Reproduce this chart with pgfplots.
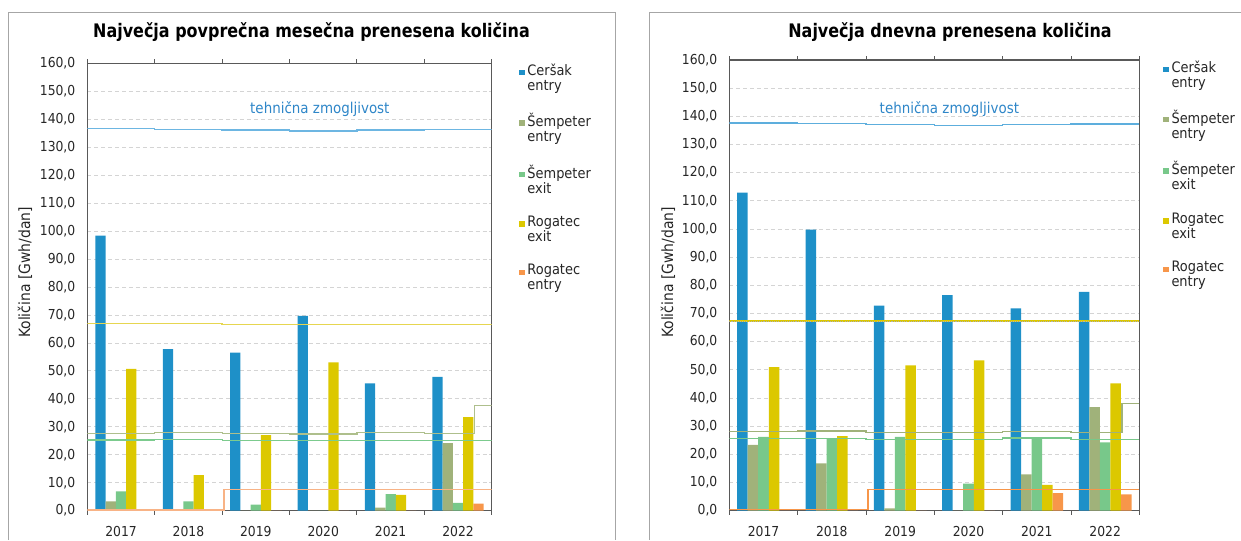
\documentclass[border=0pt]{standalone}
\usepackage{fontspec}
\setmainfont{DejaVu Sans}[FakeStretch=0.9]
\newfontfamily\titlefont{DejaVu Sans}[FakeStretch=0.855]
\usepackage{pgfplots}
\usepackage{pgfplotstable}
\pgfplotsset{compat=1.18}

\definecolor{cer}{HTML}{1E90C8}
\definecolor{semen}{HTML}{A0B27A}
\definecolor{semex}{HTML}{78C88A}
\definecolor{rogex}{HTML}{DCC800}
\definecolor{rogen}{HTML}{F7964A}
\definecolor{axgray}{HTML}{595959}
\definecolor{txt}{HTML}{262626}
\definecolor{capblue}{HTML}{6DB6E2}
\definecolor{capyel}{HTML}{E6D650}
\definecolor{capol}{HTML}{AEBF8C}
\definecolor{capgr}{HTML}{7CCB8E}
\definecolor{capor}{HTML}{F8B386}
\definecolor{labblue}{HTML}{2E86C8}

\pgfplotstableread{
x cer semen semex rogex rogen
0 98.4 3.3 6.9 50.7 0
1 57.8 0.6 3.3 12.7 0
2 56.5 0 2.2 27.0 0
3 69.7 0 0 53.0 0
4 45.5 1.1 5.9 5.7 0
5 47.9 24.2 2.8 33.5 2.5
}\monthly

\pgfplotstableread{
x cer semen semex rogex rogen
0 112.9 23.4 26.2 51.0 0
1 99.8 16.8 25.8 26.5 0
2 72.8 0.85 26.2 51.6 0
3 76.5 0 9.6 53.4 0
4 71.8 12.9 25.6 9.2 6.2
5 77.7 36.8 24.3 45.2 5.8
}\daily

\pgfplotsset{
  sq/.style={legend image code/.code={\fill[##1] (0pt,2.2pt) rectangle (4.1pt,6.3pt);}},
  base/.style={
    scale only axis,
    ymin=0, ymax=160,
    xmin=-0.5, xmax=5.5,
    ytick={0,10,...,160},
    xtick={0,...,5},
    xticklabels={2017,2018,2019,2020,2021,2022},
    minor xtick={-0.5,0.5,...,5.5},
    tick align=outside,
    major tick length=0pt,
    minor tick length=3pt,
    minor tick style={color=axgray, line width=0.75pt},
    axis line style={draw=axgray, line width=0.8pt},
    ymajorgrids,
    major grid style={color=black!17, dash pattern=on 3pt off 2.2pt, line width=0.6pt},
    /pgf/number format/assume math mode=true,
    yticklabel={\pgfmathprintnumber[fixed,fixed zerofill,precision=1,use comma]{\tick}},
    tick label style={font=\fontsize{10.3}{12}\selectfont, text=txt},
    yticklabel style={xshift=-5.5pt},
    xticklabel style={yshift=-8.5pt},
    legend cell align=left,
    legend style={draw=none, fill=none, inner sep=0pt, row sep=11.7pt,
      font=\fontsize{10.8}{11.25}\selectfont, text=txt,
      cells={align=left}, anchor=north west},
  },
}

\begin{document}
\begin{tikzpicture}
\path[use as bounding box] (0,0) rectangle (930.75pt,405pt);
\draw[color=black!35, line width=0.75pt] (6pt,0) -- (6pt,395.25pt) -- (461.25pt,395.25pt) -- (461.25pt,0);
\draw[color=black!35, line width=0.75pt] (486.75pt,0) -- (486.75pt,395.25pt) -- (930.75pt,395.25pt);

\node[font=\fontsize{14}{16}\selectfont\titlefont\bfseries, text=black] at (233.6pt,381pt) {Največja povprečna mesečna prenesena količina};
\node[font=\fontsize{14}{16}\selectfont\titlefont\bfseries, text=black] at (712.5pt,381pt) {Največja dnevna prenesena količina};
\node[rotate=90, font=\fontsize{11.6}{13}\selectfont, text=txt] at (18.75pt,200.6pt) {Količina [Gwh/dan]};
\node[rotate=90, font=\fontsize{11.6}{13}\selectfont, text=txt] at (501pt,200.6pt) {Količina [Gwh/dan]};

% ---------- left chart ----------
\begin{axis}[base,
  at={(65.5pt,21.98pt)}, anchor=south west,
  width=303.3pt, height=335.55pt,
  bar width=7.7pt,
  legend style={at={(1.0675,1.005)}},
]
\addplot[ybar, bar shift=-15.4pt, fill=cer, draw=none, sq] table[x=x,y=cer]{\monthly};
\addlegendentry{Ceršak\\entry}
\addplot[ybar, bar shift=-7.7pt, fill=semen, draw=none, sq] table[x=x,y=semen]{\monthly};
\addlegendentry{Šempeter\\entry}
\addplot[ybar, bar shift=0pt, fill=semex, draw=none, sq] table[x=x,y=semex]{\monthly};
\addlegendentry{Šempeter\\exit}
\addplot[ybar, bar shift=7.7pt, fill=rogex, draw=none, sq] table[x=x,y=rogex]{\monthly};
\addlegendentry{Rogatec\\exit}
\addplot[ybar, bar shift=15.4pt, fill=rogen, draw=none, sq] table[x=x,y=rogen]{\monthly};
\addlegendentry{Rogatec\\entry}
% capacity lines
\addplot[const plot, forget plot, color=capblue, line width=1pt] coordinates
 {(-0.5,136.6) (0.5,136.3) (1.5,136.1) (2.5,135.8) (3.5,136.1) (4.5,136.3) (5.5,136.3)};
\addplot[const plot, forget plot, color=capyel, line width=1pt] coordinates
 {(-0.5,67.0) (0.5,66.9) (1.5,66.6) (2.5,66.6) (3.5,66.6) (4.5,66.6) (5.5,66.6)};
\addplot[const plot, forget plot, color=capol, line width=0.9pt] coordinates
 {(-0.5,27.7) (0.5,28.0) (1.5,27.7) (2.5,27.4) (3.5,27.9) (4.5,27.7) (5.24,37.7) (5.5,37.7)};
\addplot[const plot, forget plot, color=capgr, line width=0.9pt] coordinates
 {(-0.5,25.3) (0.5,25.5) (1.5,25.0) (2.5,25.0) (3.5,25.0) (4.5,25.0) (5.5,25.0)};
\addplot[const plot, forget plot, color=capor, line width=1pt] coordinates
 {(-0.5,0.3) (1.53,7.5) (5.5,7.5)};
\node[font=\fontsize{11.2}{13}\selectfont, text=labblue] at (axis cs:2.95,143.7) {tehnična zmogljivost};
\end{axis}

% ---------- right chart ----------
\begin{axis}[base,
  at={(547pt,21.98pt)}, anchor=south west,
  width=307.5pt, height=338pt,
  bar width=7.9pt,
  legend style={at={(1.058,1.005)}},
]
\addplot[ybar, bar shift=-15.8pt, fill=cer, draw=none, sq] table[x=x,y=cer]{\daily};
\addlegendentry{Ceršak\\entry}
\addplot[ybar, bar shift=-7.9pt, fill=semen, draw=none, sq] table[x=x,y=semen]{\daily};
\addlegendentry{Šempeter\\entry}
\addplot[ybar, bar shift=0pt, fill=semex, draw=none, sq] table[x=x,y=semex]{\daily};
\addlegendentry{Šempeter\\exit}
\addplot[ybar, bar shift=7.9pt, fill=rogex, draw=none, sq] table[x=x,y=rogex]{\daily};
\addlegendentry{Rogatec\\exit}
\addplot[ybar, bar shift=15.8pt, fill=rogen, draw=none, sq] table[x=x,y=rogen]{\daily};
\addlegendentry{Rogatec\\entry}
% capacity lines
\addplot[const plot, forget plot, color=capblue!80!cer, line width=1pt] coordinates
 {(-0.5,137.7) (0.5,137.4) (1.5,137.2) (2.5,136.8) (3.5,137.2) (4.5,137.3) (5.5,137.3)};
\addplot[const plot, forget plot, color=rogex, line width=1pt] coordinates
 {(-0.5,67.3) (5.5,67.3)};
\addplot[const plot, forget plot, color=black!30, line width=0.5pt, dash pattern=on 0.8pt off 0.8pt] coordinates
 {(-0.5,67.3) (5.5,67.3)};
\addplot[const plot, forget plot, color=semen, line width=0.9pt] coordinates
 {(-0.5,28.2) (0.5,28.3) (1.5,27.8) (2.5,27.8) (3.5,28.2) (4.5,27.8) (5.245,38.0) (5.5,38.0)};
\addplot[const plot, forget plot, color=semex, line width=0.9pt] coordinates
 {(-0.5,25.6) (0.5,25.6) (1.5,25.3) (2.5,25.3) (3.5,25.8) (4.5,25.3) (5.5,25.3)};
\addplot[const plot, forget plot, color=rogen, line width=0.9pt] coordinates
 {(-0.5,0.4) (1.53,7.6) (5.5,7.6)};
\node[font=\fontsize{11.2}{13}\selectfont, text=labblue] at (axis cs:2.72,142.6) {tehnična zmogljivost};
\end{axis}
\end{tikzpicture}
\end{document}
